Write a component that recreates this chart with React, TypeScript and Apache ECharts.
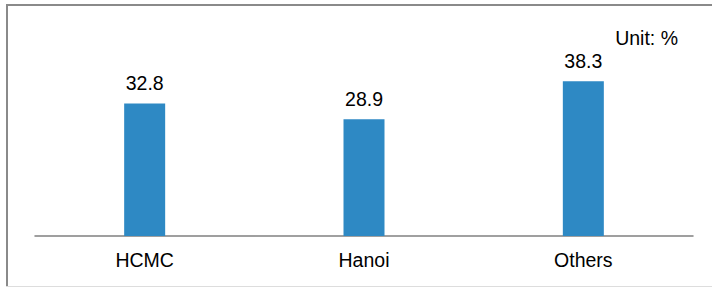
import React, { useEffect, useRef } from "react";
import * as echarts from "echarts";

const categories: string[] = ["HCMC", "Hanoi", "Others"];
const values: number[] = [32.8, 28.9, 38.3];
const unitLabel = "Unit: %";

export default function App() {
  const ref = useRef<HTMLDivElement>(null);
  useEffect(() => {
    if (!ref.current) return;
    const chart = echarts.init(ref.current, undefined, { renderer: "svg" });
    const font = "Liberation Sans, Arial, Helvetica, sans-serif";
    chart.setOption({
      animation: false,
      backgroundColor: "#ffffff",
      grid: { left: 35, right: 19, top: 34, bottom: 51, containLabel: false },
      xAxis: {
        type: "category",
        data: categories,
        axisLine: { show: true, lineStyle: { color: "#808080", width: 1.5 } },
        axisTick: { show: false },
        axisLabel: { color: "#000", fontSize: 19.5, fontFamily: font, margin: 14 },
      },
      yAxis: {
        type: "value",
        min: 0,
        max: 50,
        show: false,
        splitLine: { show: false },
      },
      graphic: [
        { type: "line", shape: { x1: 6, y1: 5, x2: 712, y2: 5 }, style: { stroke: "#8a8a8a", lineWidth: 2 } },
        { type: "line", shape: { x1: 7, y1: 4, x2: 7, y2: 287 }, style: { stroke: "#8a8a8a", lineWidth: 2 } },
        { type: "line", shape: { x1: 6, y1: 286.5, x2: 712, y2: 286.5 }, style: { stroke: "#dddddd", lineWidth: 1 } },
        {
          type: "text",
          right: 34,
          top: 28,
          style: { text: unitLabel, fill: "#000", fontSize: 19.5, fontFamily: font },
        },
      ],
      series: [
        {
          type: "bar",
          data: values,
          barWidth: 41,
          itemStyle: { color: "#2E89C4" },
          label: {
            show: true,
            position: "top",
            distance: 10,
            color: "#000",
            fontSize: 19.5,
            fontFamily: font,
            formatter: (p: any) => p.value.toFixed(1),
          },
        },
      ],
    });
    return () => chart.dispose();
  }, []);
  return (
    <div
      ref={ref}
      style={{ position: "fixed", left: 0, top: 0, width: 712, height: 287 }}
    />
  );
}
